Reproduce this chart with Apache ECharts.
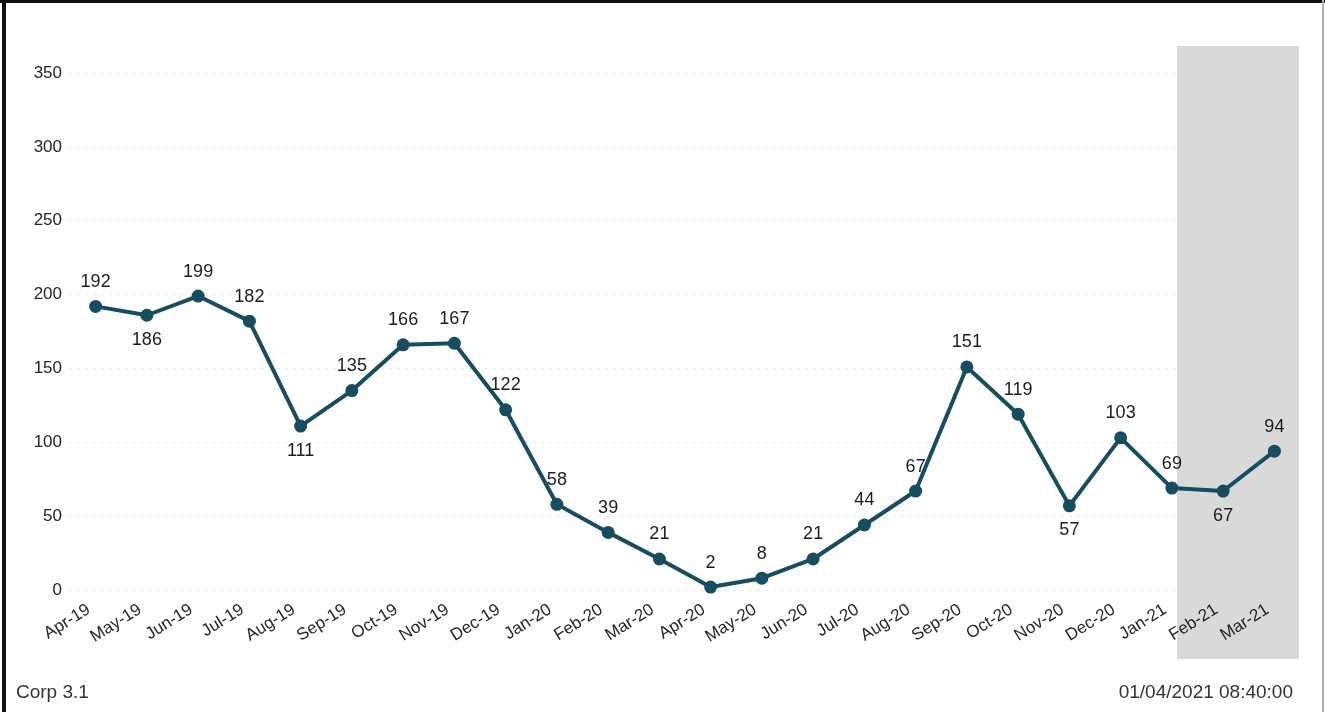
<!DOCTYPE html>
<html>
<head>
<meta charset="utf-8">
<title>Corp 3.1</title>
<script src="https://cdn.jsdelivr.net/npm/echarts@6/dist/echarts.min.js"></script>
<style>
  html, body { margin: 0; padding: 0; background: #fff; }
  #chart { width: 1325px; height: 712px; }
</style>
</head>
<body>
<div id="chart"></div>
<script>
// Monthly counts, Apr-19 .. Mar-21
const months = ['Apr-19','May-19','Jun-19','Jul-19','Aug-19','Sep-19','Oct-19','Nov-19','Dec-19',
  'Jan-20','Feb-20','Mar-20','Apr-20','May-20','Jun-20','Jul-20','Aug-20','Sep-20','Oct-20',
  'Nov-20','Dec-20','Jan-21','Feb-21','Mar-21'];
const counts = [192,186,199,182,111,135,166,167,122,58,39,21,2,8,21,44,67,151,119,57,103,69,67,94];
// Months whose value label sits under the point
const labelsBelow = ['May-19','Aug-19','Nov-20','Feb-21'];
const yTicks = [0, 50, 100, 150, 200, 250, 300, 350];

const footerLeft = 'Corp 3.1';
const footerRight = '01/04/2021 08:40:00';

const FONT = '"Liberation Sans", Arial, sans-serif';
const LINE = '#164d61';

const seriesData = counts.map((v, i) => ({
  value: v,
  label: { position: labelsBelow.includes(months[i]) ? 'bottom' : 'top' }
}));

const chart = echarts.init(document.getElementById('chart'), null, { renderer: 'canvas' });
chart.setOption({
  backgroundColor: '#ffffff',
  animation: false,
  textStyle: { fontFamily: FONT },
  grid: { left: 70, right: 25, top: 73, bottom: 122, containLabel: false },
  xAxis: {
    type: 'category',
    data: months,
    boundaryGap: true,
    axisLine: { show: false },
    axisTick: { show: false },
    axisLabel: {
      rotate: 32,
      interval: 0,
      margin: 14,
      padding: [0, 8, 0, 0],
      color: '#252525',
      fontSize: 17,
      fontFamily: FONT
    }
  },
  yAxis: {
    type: 'value',
    min: yTicks[0],
    max: yTicks[yTicks.length - 1],
    interval: yTicks[1] - yTicks[0],
    axisLine: { show: false },
    axisTick: { show: false },
    axisLabel: { color: '#252525', fontSize: 17, margin: 8, fontFamily: FONT },
    splitLine: {
      show: true,
      lineStyle: { color: '#c4c4c4', width: 1, type: [1, 7] }
    }
  },
  series: [{
    type: 'line',
    data: seriesData,
    z: 5,
    symbol: 'circle',
    symbolSize: 13,
    lineStyle: { color: LINE, width: 4 },
    itemStyle: { color: LINE },
    label: {
      show: true,
      distance: 9,
      color: '#1c1c1c',
      fontSize: 18,
      fontFamily: FONT
    }
  }],
  graphic: [
    // highlighted period behind the last two months
    { type: 'rect', z: -1, silent: true,
      shape: { x: 1177, y: 46, width: 122, height: 613 },
      style: { fill: '#d9d9d9' } },
    // frame
    { type: 'rect', z: 100, silent: true,
      shape: { x: 0, y: 0, width: 1325, height: 3 }, style: { fill: '#111' } },
    { type: 'rect', z: 100, silent: true,
      shape: { x: 2, y: 0, width: 4, height: 712 }, style: { fill: '#111' } },
    { type: 'rect', z: 100, silent: true,
      shape: { x: 1322, y: 0, width: 2, height: 712 }, style: { fill: '#b0b0b0' } },
    // footer
    { type: 'text', z: 100, left: 16, top: 683,
      style: { text: footerLeft, fill: '#333', font: '19px "Liberation Sans", Arial, sans-serif' } },
    { type: 'text', z: 100, right: 32, top: 683,
      style: { text: footerRight, fill: '#333', font: '19px "Liberation Sans", Arial, sans-serif' } }
  ]
});
</script>
</body>
</html>
